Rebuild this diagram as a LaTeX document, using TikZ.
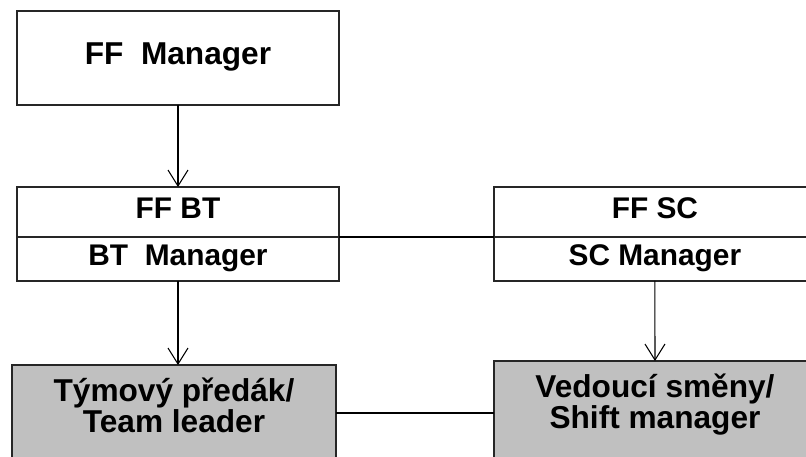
\documentclass[tikz,border=0pt]{standalone}
\usepackage{fontspec}
\setmainfont{Liberation Sans}
\usetikzlibrary{positioning,arrows.meta}
\definecolor{boxgray}{RGB}{192,192,192}
\tikzset{
  orgbox/.style={draw=black!85, line width=0.9pt, outer sep=0pt, inner sep=0pt,
    minimum width=6.44cm, text height=.72em, text depth=0pt},
  leadbox/.style={orgbox, fill=boxgray, align=center, anchor=north,
    font=\bfseries\fontsize{18}{18}\selectfont, text height=38.5pt, text depth=20pt},
  link/.style={line width=0.6pt, black},
  arr/.style={link, -{Straight Barb[length=0.32cm, width=0.4cm, line width=0.6pt]}}
}
\begin{document}
\begin{tikzpicture}[x=0.02cm, y=-0.02cm, font=\bfseries\fontsize{17}{18}\selectfont]
  \clip (0,0) rectangle (806,457);
  % top
  \node[orgbox, minimum height=1.88cm, font=\bfseries\fontsize{18}{18}\selectfont] (ffm) at (178,58) {FF\ \ Manager};
  % middle row
  \node[orgbox, minimum height=1cm] (ffbt) at (178,212) {FF BT};
  \node[orgbox, minimum height=0.88cm, below=0pt of ffbt] (btm) {BT\ \ Manager};
  \node[orgbox, minimum height=1cm, right=3.1cm of ffbt] (ffsc) {FF SC};
  \node[orgbox, minimum height=0.88cm, below=0pt of ffsc] (scm) {SC Manager};
  % leaders
  \node[leadbox, minimum width=6.48cm] (tl) at (174,365) {Týmový předák/\\Team leader};
  \node[leadbox] (sm) at (655,361) {Vedoucí směny/\\Shift manager};
  \coordinate (mid) at (0,413);
  % links
  \draw[arr] (ffm.south) -- (ffbt.north);
  \draw[link] (btm.north east) -- (scm.north west);
  \draw[arr] (btm.south) -- (btm.south |- tl.north);
  \draw[arr] (scm.south) -- (sm.north);
  \draw[link] (tl.east |- mid) -- (sm.west |- mid);
\end{tikzpicture}
\end{document}
